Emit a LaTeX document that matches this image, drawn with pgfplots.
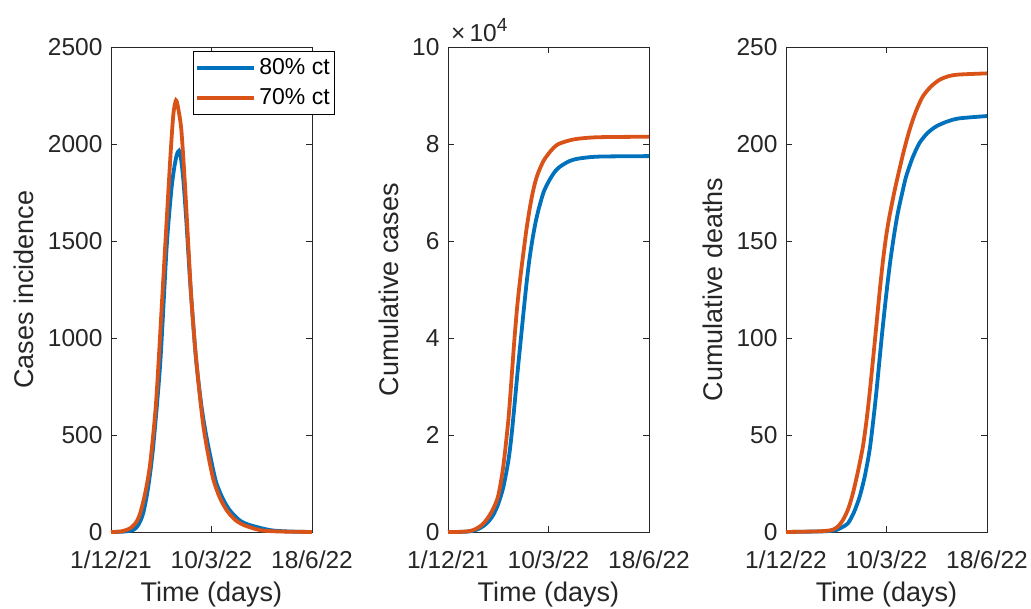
\documentclass[border=0pt]{standalone}
\usepackage{fontspec}
\setmainfont{Liberation Sans}
\usepackage{pgfplots}
\pgfplotsset{compat=1.18}

\definecolor{mblue}{rgb}{0,0.447,0.741}
\definecolor{morange}{rgb}{0.85,0.325,0.098}
\definecolor{axgray}{rgb}{0.15,0.15,0.15}

\pgfplotsset{
  subfig/.style={
    width=201pt, height=485pt, scale only axis,
    anchor=south west,
    xmin=0, xmax=200, xtick={0,100,200},
    tick align=inside,
    axis line style={axgray, line width=0.8pt},
    major tick length=6pt,
    every tick/.style={axgray, line width=0.8pt},
    tick label style={font=\fontsize{24.5}{28}\selectfont, text=axgray},
    xticklabel style={anchor=base, yshift=-36pt},
    yticklabel style={anchor=east, xshift=-5pt},
    label style={font=\fontsize{27}{30}\selectfont, text=axgray},
    xlabel style={at={(rel axis cs:0.5,0)}, anchor=base, yshift=-69pt},
    ylabel style={anchor=base},
    /pgf/number format/assume math mode=true,
    /pgf/number format/1000 sep={},
    xlabel={Time (days)},
    clip=false,
    every axis plot/.append style={line width=3.8pt, no marks, smooth, tension=0.45},
  }
}

\begin{document}
\begin{tikzpicture}
\useasboundingbox (0,0) rectangle (1031pt,608pt);

% ---- incidence
\begin{axis}[subfig, at={(111pt,76pt)},
  ymin=0, ymax=2500, ytick={0,500,...,2500},
  xticklabels={1/12/21,10/3/22,18/6/22},
  ylabel={Cases incidence},
  ylabel style={at={(rel axis cs:-0.388,0.5)}},
  legend style={at={(1.1144,0.992)}, anchor=north east, draw=black,
    line width=0.6pt, fill=white, font=\fontsize{23}{26}\selectfont,
    inner xsep=2pt, inner ysep=1.5pt, row sep=0pt,
    nodes={inner xsep=3pt, inner ysep=5pt, text height=17pt, text depth=3pt}},
  legend cell align=left,
  legend image code/.code={\draw[#1, line width=3.8pt] (0pt,0pt) -- (57pt,0pt);},
]
\addplot[mblue] coordinates {
(0,0) (12,2) (22,10) (27,35) (32,96) (37,230) (42,440) (49,870) (55.4,1470)
(60,1760) (63,1880) (65.5,1945) (67.7,1965) (69.5,1930) (72,1814) (75,1600)
(78.6,1300) (82,1060) (85,870) (90,650) (95,490) (104,268) (111,175)
(118,113) (128,60) (138,36) (158,10) (175,3) (200,0)
};
\addlegendentry{80\% ct}
\addplot[morange] coordinates {
(0,0) (10,3) (19,19) (25,50) (29,96) (34,200) (39,354) (45,680) (52,1300)
(58.7,1900) (62,2150) (64.7,2225) (67,2180) (70,2072) (73.5,1800) (77,1470)
(80,1200) (83.6,955) (88,720) (92,543) (97,390) (102,268) (108,180)
(115,113) (123,65) (132,36) (148,10) (165,3) (200,0)
};
\addlegendentry{70\% ct}
\end{axis}

% ---- cumulative cases (values in units of 10^4)
\begin{axis}[subfig, at={(448pt,76pt)},
  ymin=0, ymax=10, ytick={0,2,...,10},
  scaled y ticks=false,
  xticklabels={1/12/21,10/3/22,18/6/22},
  ylabel={Cumulative cases},
  ylabel style={at={(rel axis cs:-0.248,0.5)}},
]
\addplot[mblue] coordinates {
(0,0) (10,0.001) (15,0.004) (20,0.01) (25,0.025) (30,0.06) (35,0.12)
(40,0.21) (45,0.35) (50,0.58) (55,0.92) (60,1.46) (63,1.95) (66,2.58)
(69,3.25) (72,3.88) (75,4.50) (78,5.10) (81,5.62) (84,6.03) (87,6.37)
(90,6.64) (95,7.00) (100,7.22) (105,7.39) (110,7.51) (120,7.64)
(130,7.70) (150,7.74) (200,7.75)
};
\addplot[morange] coordinates {
(0,0) (10,0.002) (15,0.006) (20,0.015) (25,0.04) (30,0.09) (35,0.17)
(40,0.30) (45,0.48) (50,0.75) (55,1.35) (60,2.30) (63,3.10) (66,3.95)
(69,4.68) (72,5.25) (75,5.75) (78,6.23) (81,6.63) (84,6.97) (87,7.23)
(90,7.42) (95,7.65) (100,7.80) (105,7.92) (110,8.00) (120,8.07)
(130,8.11) (150,8.14) (200,8.15)
};
\node[anchor=base west, inner sep=0pt, text=axgray,
  font=\fontsize{24.5}{28}\selectfont] at ([xshift=3pt,yshift=5.5pt]rel axis cs:0,1)
  {×\,10\raisebox{9.5pt}{\fontsize{19}{20}\selectfont 4}};
\end{axis}

% ---- cumulative deaths
\begin{axis}[subfig, at={(786pt,76pt)},
  ymin=0, ymax=250, ytick={0,50,...,250},
  xticklabels={1/12/22,10/3/22,18/6/22},
  ylabel={Cumulative deaths},
  ylabel style={at={(rel axis cs:-0.317,0.5)}},
]
\addplot[mblue] coordinates {
(0,0) (35,0.3) (45,0.6) (50,1) (56,2.5) (61.7,4.5) (67.5,10) (73.3,18.2)
(78.5,29) (83.2,42.3) (86.5,56) (89.8,71.5) (93,88.5) (96.3,105.8) (100,123.5)
(103.6,139) (107.5,153) (111.2,164.3) (115.5,174.5) (119.5,183.2) (126,193)
(132.7,200.4) (140.5,205.5) (149.2,209) (160,211.5) (172.3,213.2) (200,214.4)
};
\addplot[morange] coordinates {
(0,0) (30,0.3) (40,0.6) (46.8,1.2) (52,3) (56.7,6.2) (62,12) (66.6,20)
(71.5,31) (76.5,44) (80,57) (83.2,71.5) (86.5,88.5) (89.8,105.8) (93,123)
(96.3,139) (99.5,152) (102.5,161.5) (105.5,169.5) (108.5,177) (112.9,187)
(117.5,197) (122.8,207) (129,216.5) (136,224.4) (144,229.5) (152.5,233)
(162,235) (172.3,235.8) (200,236.4)
};
\end{axis}
\end{tikzpicture}
\end{document}
